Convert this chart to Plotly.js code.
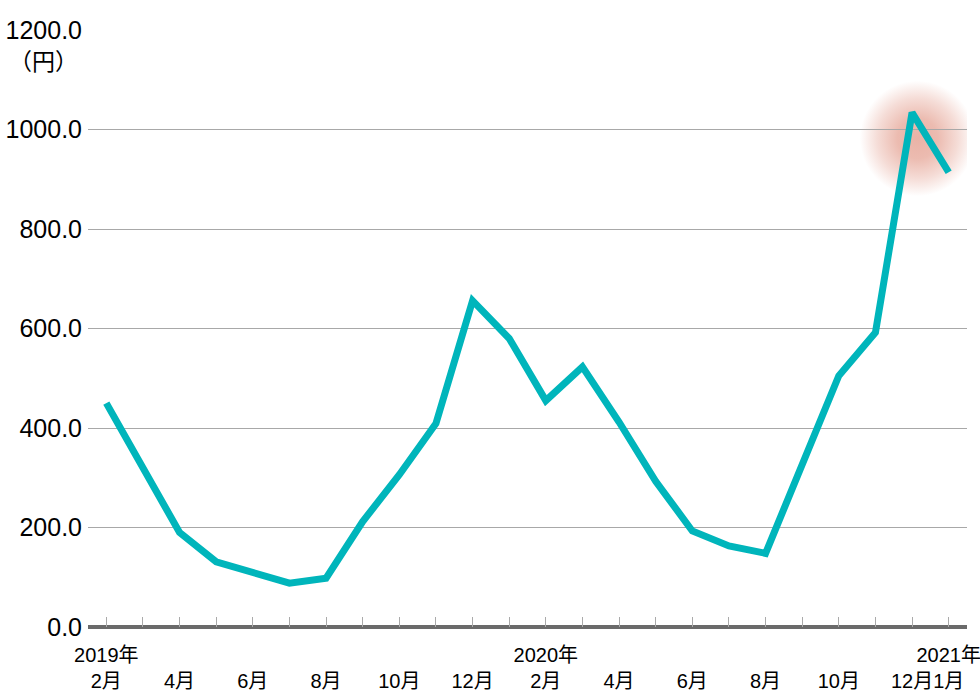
<!DOCTYPE html>
<html>
<head>
<meta charset="utf-8">
<script src="https://cdn.plot.ly/plotly-3.0.1.min.js"></script>
<style>
  html, body { margin: 0; padding: 0; background: #ffffff; }
  #chart { width: 980px; height: 700px; }
</style>
</head>
<body>
<div id="chart"></div>
<script>
// Months (Feb 2019 – Jan 2021)
const months = ['2019-02','2019-03','2019-04','2019-05','2019-06','2019-07','2019-08','2019-09','2019-10','2019-11','2019-12',
                '2020-01','2020-02','2020-03','2020-04','2020-05','2020-06','2020-07','2020-08','2020-09','2020-10','2020-11','2020-12',
                '2021-01'];
// Price (円)
const prices = [450, 320, 190, 131, 110, 88, 98, 212, 306, 409, 656,
                580, 455, 523, 412, 293, 193, 163, 148, 325, 505, 592, 1034,
                914];
// Tick labels (blank = tick mark only)
const tickLabels = ['2019年<br>2月','', '\u00a0<br>4月','', '\u00a0<br>6月','', '\u00a0<br>8月','', '\u00a0<br>10月','', '\u00a0<br>12月',
                    '', '2020年<br>2月','', '\u00a0<br>4月','', '\u00a0<br>6月','', '\u00a0<br>8月','', '\u00a0<br>10月','', '\u00a0<br>12月',
                    '2021年<br>1月'];
const yTicks = [0, 200, 400, 600, 800, 1000, 1200];

const LATIN = '"Liberation Sans", Arial, "Noto Sans CJK JP", sans-serif';

// highlight glow around the peak (decorative image placed relative to the peak data point)
const peakIdx = prices.indexOf(Math.max(...prices));
const glowSvg = "<svg xmlns='http://www.w3.org/2000/svg' width='200' height='200'>" +
  "<defs><radialGradient id='g' cx='50%' cy='50%' r='50%'>" +
  "<stop offset='0' stop-color='#dc8470' stop-opacity='0.62'/>" +
  "<stop offset='0.35' stop-color='#dc8470' stop-opacity='0.55'/>" +
  "<stop offset='0.7' stop-color='#dc8470' stop-opacity='0.28'/>" +
  "<stop offset='1' stop-color='#dc8470' stop-opacity='0'/>" +
  "</radialGradient></defs><circle cx='100' cy='100' r='100' fill='url(#g)'/></svg>";
const glowSrc = 'data:image/svg+xml;charset=utf-8,' + encodeURIComponent(glowSvg);

const line = {
  x: months.map((m, i) => i),
  y: prices,
  type: 'scatter',
  mode: 'lines',
  showlegend: false,
  line: { color: '#00B5BB', width: 7 }
};

const layout = {
  width: 980,
  height: 700,
  margin: { l: 88, r: 13, t: 29, b: 73 },
  paper_bgcolor: '#ffffff',
  plot_bgcolor: '#ffffff',
  showlegend: false,
  xaxis: {
    range: [-0.5, months.length - 0.5],
    tickmode: 'array',
    tickvals: months.map((m, i) => i),
    ticktext: tickLabels,
    ticks: 'inside',
    ticklen: 10,
    tickwidth: 1,
    tickcolor: '#aaaaaa',
    ticklabelstandoff: 14,
    ticklabeloverflow: 'allow',
    showgrid: false,
    zeroline: false,
    showline: false,
    tickangle: 0,
    tickfont: { family: LATIN, size: 20, color: '#000000' },
    fixedrange: true
  },
  yaxis: {
    range: [0, 1202],
    tickmode: 'array',
    tickvals: yTicks,
    ticktext: yTicks.map(v => v.toFixed(1)),
    ticks: '',
    ticklabelstandoff: 5,
    showgrid: true,
    gridcolor: '#a8a8a8',
    gridwidth: 1,
    zeroline: true,
    zerolinecolor: '#6a6a6a',
    zerolinewidth: 4,
    showline: false,
    tickfont: { family: LATIN, size: 25, color: '#000000' },
    fixedrange: true
  },
  images: [{
    source: glowSrc,
    xref: 'x', yref: 'y',
    x: peakIdx + 0.15, y: prices[peakIdx] - 52,
    sizex: 3.15, sizey: 232,
    xanchor: 'center', yanchor: 'middle',
    sizing: 'stretch',
    layer: 'below'
  }],
  annotations: [{
    text: '（円）',
    xref: 'paper', yref: 'paper',
    x: 0, y: 1,
    xanchor: 'center', yanchor: 'middle',
    xshift: -45, yshift: -31,
    showarrow: false,
    font: { family: '"Noto Sans CJK JP", sans-serif', size: 23, color: '#000000' }
  }]
};

Plotly.newPlot('chart', [line], layout, { displayModeBar: false, staticPlot: true });
</script>
</body>
</html>
